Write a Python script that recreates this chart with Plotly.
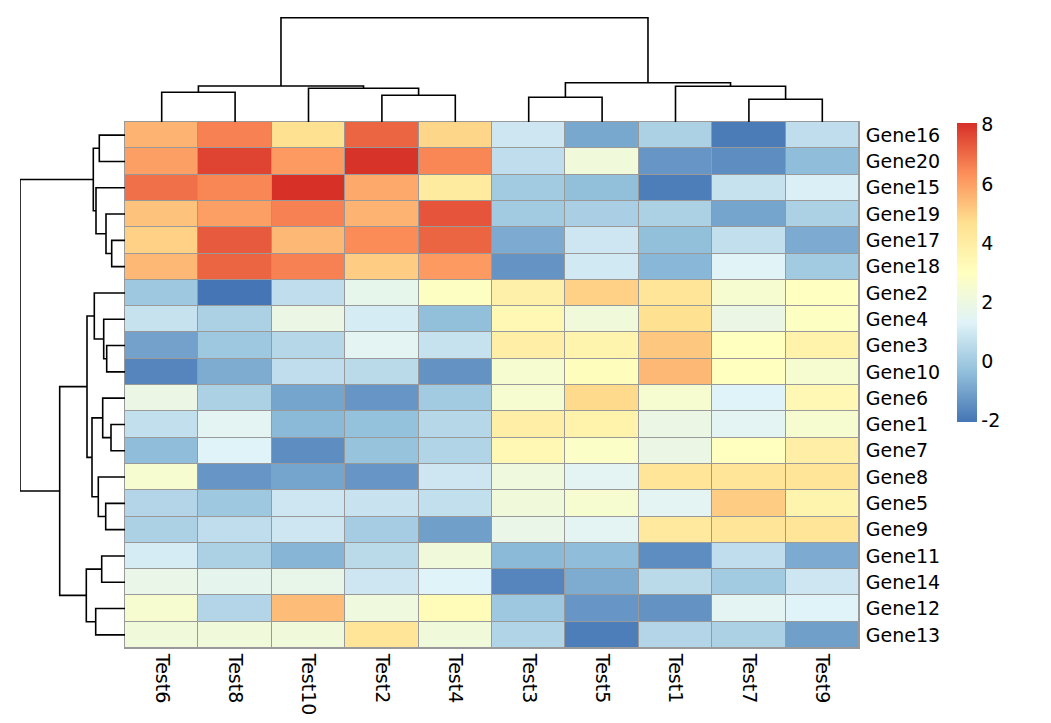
import plotly.graph_objects as go

# ---------------- data ----------------
tests = ["Test6", "Test8", "Test10", "Test2", "Test4",
         "Test3", "Test5", "Test1", "Test7", "Test9"]
genes = ["Gene16", "Gene20", "Gene15", "Gene19", "Gene17", "Gene18",
         "Gene2", "Gene4", "Gene3", "Gene10", "Gene6", "Gene1", "Gene7",
         "Gene8", "Gene5", "Gene9", "Gene11", "Gene14", "Gene12", "Gene13"]

# values per gene (row), columns in the order of `tests`
expr = [
    [5.6, 6.6, 4.6, 7.1, 4.9, 0.9, -0.9, 0.2, -1.9, 0.6],    # Gene16
    [6.0, 7.7, 6.1, 8.0, 6.5, 0.6, 2.2, -1.3, -1.5, -0.4],   # Gene20
    [6.9, 6.5, 8.06, 5.8, 4.1, 0.0, -0.35, -1.85, 0.75, 1.2],  # Gene15
    [5.3, 6.0, 6.6, 5.6, 7.4, 0.0, 0.15, 0.2, -1.0, 0.2],    # Gene19
    [5.0, 7.3, 5.5, 6.4, 7.1, -0.85, 0.9, -0.35, 0.65, -0.85],  # Gene17
    [5.5, 7.1, 6.6, 5.1, 6.1, -1.35, 1.0, -0.55, 1.35, 0.0],  # Gene18
    [-0.1, -2.06, 0.6, 1.7, 2.9, 3.8, 5.0, 4.4, 2.5, 2.95],  # Gene2
    [0.75, 0.2, 1.9, 1.1, -0.35, 3.4, 2.2, 4.6, 1.9, 2.9],   # Gene4
    [-1.05, -0.1, 0.4, 1.5, 0.75, 3.9, 3.6, 5.2, 3.0, 3.7],  # Gene3
    [-1.7, -0.8, 0.6, 0.5, -1.4, 2.5, 3.1, 5.5, 3.0, 2.5],   # Gene10
    [1.9, 0.2, -1.0, -1.3, 0.0, 2.5, 4.8, 2.5, 1.3, 3.4],    # Gene6
    [0.65, 1.5, -0.5, -0.3, 0.4, 3.9, 3.7, 1.9, 1.5, 2.5],   # Gene1
    [-0.4, 1.3, -1.5, -0.25, 0.3, 3.4, 2.8, 1.9, 3.0, 3.9],  # Gene7
    [2.5, -1.3, -1.0, -1.3, 0.9, 2.1, 1.5, 4.4, 4.4, 4.4],   # Gene8
    [0.35, -0.1, 0.9, 0.8, 0.65, 2.2, 2.5, 1.5, 5.1, 3.6],   # Gene5
    [0.2, 0.6, 0.9, 0.05, -1.1, 1.8, 1.5, 4.2, 4.4, 4.4],    # Gene9
    [1.1, 0.2, -0.6, 0.5, 2.2, -0.5, -0.4, -1.5, 0.6, -0.85],  # Gene11
    [1.8, 1.6, 1.75, 0.9, 1.3, -1.7, -0.8, 0.5, 0.0, 0.9],   # Gene14
    [2.5, 0.35, 5.4, 2.1, 3.2, -0.1, -1.3, -1.4, 1.5, 1.3],  # Gene12
    [2.2, 2.2, 2.2, 4.4, 2.2, 0.3, -1.85, 0.35, 0.2, -1.1],  # Gene13
]

# hierarchical clustering merges: (left, right, height); ints refer to earlier merges
col_merges = [
    ("Test6", "Test8", 2.97),
    ("Test2", "Test4", 2.67),
    ("Test10", 1, 3.37),
    (0, 2, 3.60),
    ("Test3", "Test5", 2.47),
    ("Test7", "Test9", 2.27),
    ("Test1", 5, 3.57),
    (4, 6, 3.93),
    (3, 7, 10.43),
]
row_merges = [
    ("Gene16", "Gene20", 2.57),
    ("Gene17", "Gene18", 1.33),
    ("Gene19", 1, 1.90),
    ("Gene15", 2, 2.90),
    (0, 3, 3.17),
    ("Gene3", "Gene10", 1.83),
    ("Gene4", 5, 2.13),
    ("Gene2", 6, 3.07),
    ("Gene1", "Gene7", 1.40),
    ("Gene6", 8, 2.23),
    ("Gene5", "Gene9", 1.93),
    ("Gene8", 10, 2.67),
    (9, 11, 3.30),
    (7, 12, 3.80),
    ("Gene11", "Gene14", 2.33),
    ("Gene12", "Gene13", 2.93),
    (14, 15, 3.87),
    (13, 16, 6.53),
    (4, 17, 10.50),
]

colour_ramp = ["#4575B4", "#91BFDB", "#E0F3F8", "#FFFFBF", "#FEE090", "#FC8D59", "#D73027"]
cbar_ticks = [-2, 0, 2, 4, 6, 8]
cbar_labels = ["-2", "0", "2", "4", "6", "8"]

# ---------------- helpers ----------------
def dendro_segments(merges, leaves):
    pos = {name: i for i, name in enumerate(leaves)}
    centres, heights = [], []
    pos_line, h_line = [], []

    def node(ref):
        if isinstance(ref, int):
            return centres[ref], heights[ref]
        return pos[ref], 0.0

    for a, b, h in merges:
        pa, ha = node(a)
        pb, hb = node(b)
        pos_line += [pa, pa, pb, pb, None]
        h_line += [ha, h, h, hb, None]
        centres.append((pa + pb) / 2)
        heights.append(h)
    return pos_line, h_line


W, H = 1051, 723
hx0, hx1 = 125 / W, 859 / W
hy0, hy1 = 1 - 648 / H, 1 - 122 / H
FONT = "DejaVu Sans"

zmin = min(min(r) for r in expr)
zmax = max(max(r) for r in expr)
n = len(colour_ramp)
colorscale = [[i / (n - 1), c] for i, c in enumerate(colour_ramp)]

fig = go.Figure()

fig.add_trace(go.Heatmap(
    z=expr, x=tests, y=genes,
    colorscale=colorscale, zmin=zmin, zmax=zmax,
    xgap=1, ygap=1,
    colorbar=dict(
        x=957 / W, xanchor="left", y=1 - 123 / H, yanchor="top",
        len=299 / H, lenmode="fraction", thickness=20, thicknessmode="pixels",
        outlinewidth=0, ypad=0, xpad=0,
        tickvals=cbar_ticks, ticktext=cbar_labels, ticks="",
        ticklabelposition="outside",
        tickfont=dict(family=FONT, size=19, color="black"),
    ),
    hoverongaps=False,
))

cx, ch = dendro_segments(col_merges, tests)
fig.add_trace(go.Scatter(x=cx, y=ch, mode="lines", xaxis="x2", yaxis="y2",
                         line=dict(color="black", width=1.6), hoverinfo="skip",
                         showlegend=False))
ry, rh = dendro_segments(row_merges, genes)
fig.add_trace(go.Scatter(x=rh, y=ry, mode="lines", xaxis="x3", yaxis="y3",
                         line=dict(color="black", width=1.6), hoverinfo="skip",
                         showlegend=False))

grey = "#999999"
fig.add_shape(type="rect", xref="x domain", yref="y domain", x0=0, x1=1, y0=0, y1=1,
              fillcolor=grey, line=dict(width=0), layer="below")

fig.update_layout(
    width=W, height=H,
    margin=dict(l=0, r=0, t=0, b=0, autoexpand=False),
    paper_bgcolor="white", plot_bgcolor="white",
    font=dict(family=FONT, size=19, color="black"),
    showlegend=False,
    xaxis=dict(domain=[hx0, hx1], range=[-0.5, 9.5], side="bottom",
               tickangle=90, ticks="", showgrid=False, zeroline=False,
               showline=True, mirror=True, linecolor=grey, linewidth=1,
               ticklabelstandoff=1, automargin=False,
               tickfont=dict(family=FONT, size=19, color="black"),
               anchor="y"),
    yaxis=dict(domain=[hy0, hy1], range=[19.5, -0.5], side="right",
               ticks="", showgrid=False, zeroline=False,
               showline=True, mirror=True, linecolor=grey, linewidth=1,
               ticklabelstandoff=2, automargin=False,
               tickfont=dict(family=FONT, size=19, color="black"),
               anchor="x"),
    xaxis2=dict(domain=[hx0, hx1], range=[-0.5, 9.5], visible=False, anchor="y2",
                showgrid=False, automargin=False),
    yaxis2=dict(domain=[hy1, 1 - 17 / H], range=[0, 10.5], visible=False, anchor="x2",
                showgrid=False, automargin=False),
    xaxis3=dict(domain=[20 / W, hx0], range=[10.5, 0], visible=False, anchor="y3",
                showgrid=False, automargin=False),
    yaxis3=dict(domain=[hy0, hy1], range=[19.5, -0.5], visible=False, anchor="x3",
                showgrid=False, automargin=False),
)

fig.write_html(
    "out.html",
    config={"displayModeBar": False},
    post_script="document.body.style.margin='0px';document.body.style.overflow='hidden';",
)
